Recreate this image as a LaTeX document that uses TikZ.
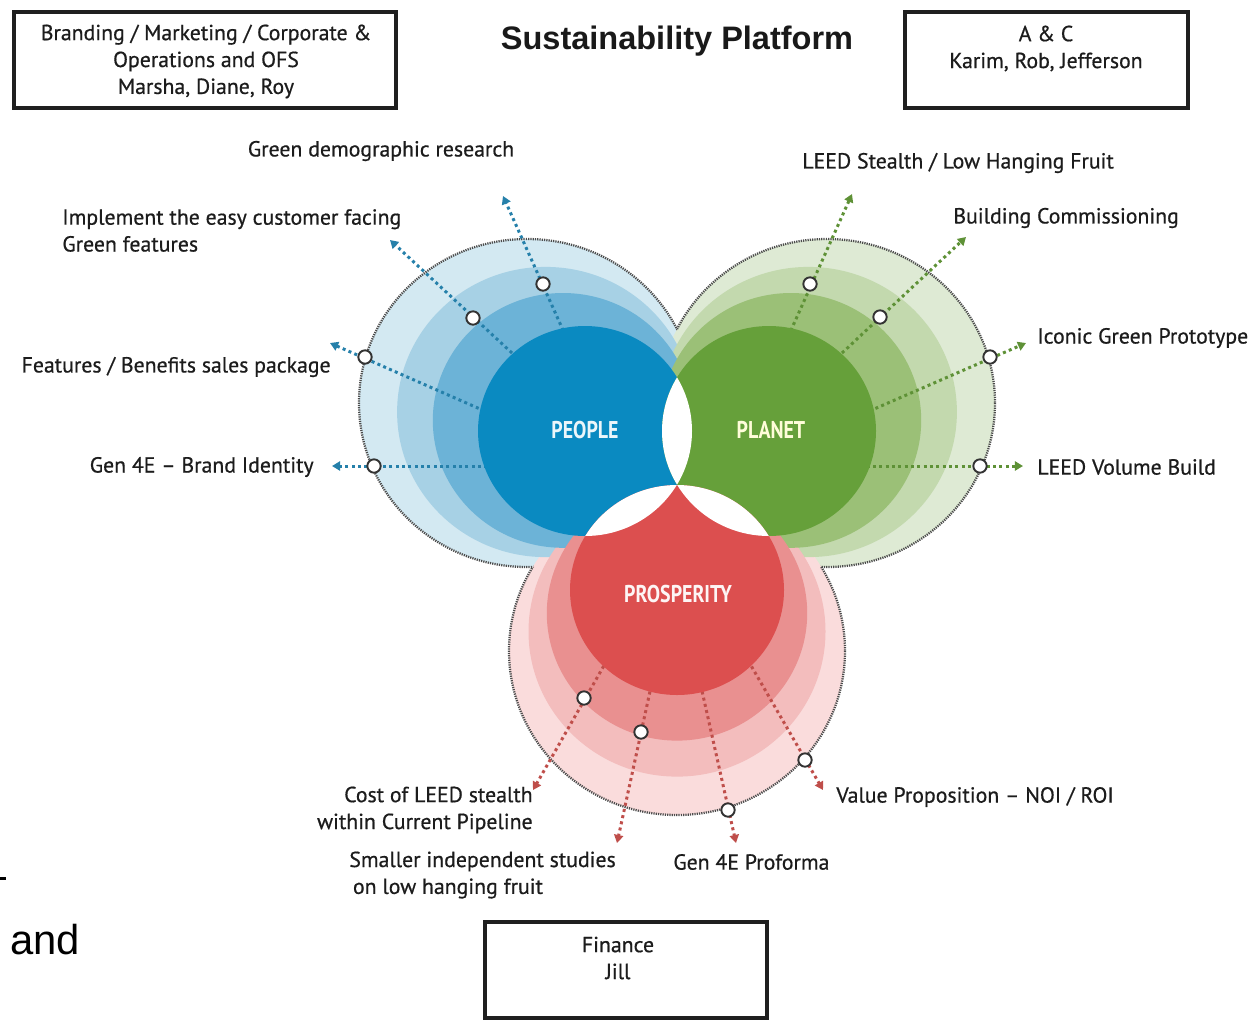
\documentclass[tikz,border=0pt]{standalone}
\usepackage{fontspec}
\setmainfont{PT Sans}
\newfontfamily\lblfam{PT Sans}[FakeBold=0.6]
\newfontfamily\titlefont{Liberation Sans}
\newfontfamily\condfont{PT Sans}[FakeStretch=0.82]
\usetikzlibrary{arrows.meta}
\definecolor{pA}{HTML}{D3E9F2}
\definecolor{pB}{HTML}{A7D1E5}
\definecolor{pC}{HTML}{6CB3D7}
\definecolor{pD}{HTML}{0A8AC1}
\definecolor{gA}{HTML}{DEEAD4}
\definecolor{gB}{HTML}{C3D9AE}
\definecolor{gC}{HTML}{9BC077}
\definecolor{gD}{HTML}{66A03A}
\definecolor{rA}{HTML}{FADCDC}
\definecolor{rB}{HTML}{F3BDBD}
\definecolor{rC}{HTML}{E99090}
\definecolor{rD}{HTML}{DC4F4F}
\definecolor{pL}{HTML}{2580AA}
\definecolor{gL}{HTML}{5E9136}
\definecolor{rL}{HTML}{BF4E4A}
\definecolor{txt}{HTML}{1C1C1C}
\newcommand\lblfont{\lblfam\fontsize{12.4}{15.3}\selectfont}
\begin{document}
\begin{tikzpicture}[x=0.02cm,y=-0.02cm,
  box/.style={draw=black!88,line width=2.3pt,inner sep=0pt,minimum height=1.92cm},
  boxtxt/.style={font=\lblfont,text=txt,align=center,inner sep=0pt},
  lbl/.style={font=\lblfont,text=txt,inner sep=0pt},
  core/.style={font=\condfont\bfseries\fontsize{13.8}{14}\selectfont,inner sep=0pt},
  conn/.style={line width=1.7pt,dash pattern=on 1.7pt off 1.9pt,-{Triangle[length=4.6pt,width=5.2pt]}},
  mk/.style={circle,draw=black!80,fill=white,line width=1.1pt,minimum size=7.6pt,inner sep=0pt},
  rim/.style={draw=black!70,line width=1.3pt,dash pattern=on 0.7pt off 0.6pt}
]
\useasboundingbox (0,0) rectangle (1253,1022);
\fill[white] (0,0) rectangle (1253,1022);

% outer discs
\fill[pA] (527,403) ellipse [x radius=168,y radius=164];
\fill[gA] (827,403) ellipse [x radius=168,y radius=164];
\fill[rA] (677,651) ellipse [x radius=168,y radius=164];
% third rings
\fill[pB] (545.6,412) ellipse [x radius=148.5,y radius=145.1];
\fill[gB] (808.4,412) ellipse [x radius=148.5,y radius=145.1];
\fill[rB] (677,631.5) ellipse [x radius=148.5,y radius=145.1];
% second rings
\fill[pC] (563,420.4) ellipse [x radius=130.2,y radius=127.4];
\fill[gC] (791,420.4) ellipse [x radius=130.2,y radius=127.4];
\fill[rC] (677,613.2) ellipse [x radius=130.2,y radius=127.4];

% dotted rims, only on the outer boundary of the union
\begin{scope}[even odd rule]
  \clip (-10,-10) rectangle (1263,1032) (827,403) ellipse [x radius=168,y radius=164];
  \clip (-10,-10) rectangle (1263,1032) (677,651) ellipse [x radius=168,y radius=164];
  \draw[rim] (527,403) ellipse [x radius=168,y radius=164];
\end{scope}
\begin{scope}[even odd rule]
  \clip (-10,-10) rectangle (1263,1032) (527,403) ellipse [x radius=168,y radius=164];
  \clip (-10,-10) rectangle (1263,1032) (677,651) ellipse [x radius=168,y radius=164];
  \draw[rim] (827,403) ellipse [x radius=168,y radius=164];
\end{scope}
\begin{scope}[even odd rule]
  \clip (-10,-10) rectangle (1263,1032) (527,403) ellipse [x radius=168,y radius=164];
  \clip (-10,-10) rectangle (1263,1032) (827,403) ellipse [x radius=168,y radius=164];
  \draw[rim] (677,651) ellipse [x radius=168,y radius=164];
\end{scope}

% connector end points
\coordinate (p1s) at (571,348); \coordinate (p1t) at (503,196);
\coordinate (p2s) at (512,353); \coordinate (p2t) at (390,240);
\coordinate (p3s) at (496,416); \coordinate (p3t) at (330,343);
\coordinate (p4s) at (500,466); \coordinate (p4t) at (332,466);
\coordinate (g1s) at (783,348); \coordinate (g1t) at (852,194);
\coordinate (g2s) at (842,353); \coordinate (g2t) at (966,237);
\coordinate (g3s) at (858,416); \coordinate (g3t) at (1026,343);
\coordinate (g4s) at (854,466); \coordinate (g4t) at (1023,466);
\coordinate (r1s) at (610,655); \coordinate (r1t) at (533,790);
\coordinate (r2s) at (654,673); \coordinate (r2t) at (617,843);
\coordinate (r3s) at (698,673); \coordinate (r3t) at (736,843);
\coordinate (r4s) at (742,650); \coordinate (r4t) at (823,790);

\draw[conn,pL] (p1s) -- (p1t);
\draw[conn,pL] (p2s) -- (p2t);
\draw[conn,pL] (p3s) -- (p3t);
\draw[conn,pL] (p4s) -- (p4t);
\draw[conn,gL] (g1s) -- (g1t);
\draw[conn,gL] (g2s) -- (g2t);
\draw[conn,gL] (g3s) -- (g3t);
\draw[conn,gL] (g4s) -- (g4t);
\draw[conn,rL] (r1s) -- (r1t);
\draw[conn,rL] (r2s) -- (r2t);
\draw[conn,rL] (r3s) -- (r3t);
\draw[conn,rL] (r4s) -- (r4t);

\node[mk] (p1m) at (543,284) {};
\node[mk] (p2m) at (473,318) {};
\node[mk] (p3m) at (365,357) {};
\node[mk] (p4m) at (374,466) {};
\node[mk] (g1m) at (810,284) {};
\node[mk] (g2m) at (880,317) {};
\node[mk] (g3m) at (990,357) {};
\node[mk] (g4m) at (980,466) {};
\node[mk] (r1m) at (584,698) {};
\node[mk] (r2m) at (641,732) {};
\node[mk] (r3m) at (728,810) {};
\node[mk] (r4m) at (805,760) {};

% cores
\fill[pD] (585,431) ellipse [x radius=107,y radius=105];
\fill[gD] (769,431) ellipse [x radius=107,y radius=105];
\fill[rD] (677,590) ellipse [x radius=107,y radius=105];
% white lenses
\begin{scope}
  \clip (585,431) ellipse [x radius=107,y radius=105];
  \fill[white] (769,431) ellipse [x radius=107,y radius=105];
  \fill[white] (677,590) ellipse [x radius=107,y radius=105];
\end{scope}
\begin{scope}
  \clip (769,431) ellipse [x radius=107,y radius=105];
  \fill[white] (677,590) ellipse [x radius=107,y radius=105];
\end{scope}

\node[core,text=white!92!pD] (people) at (585,430) {PEOPLE};
\node[core,text=white!85!yellow] (planet) at (771,430) {PLANET};
\node[core,text=white!94!rD] (prosp) at (678,594) {PROSPERITY};

% labels
\node[lbl] (l1) at (381,151) {Green demographic research};
\node[lbl,anchor=west,align=left] (l2) at (62,230.5) {Implement the easy customer facing\\Green features};
\node[lbl,anchor=east] (l3) at (331,367) {Features / Benefits sales package};
\node[lbl,anchor=east] (l4) at (314,467) {Gen 4E – Brand Identity};
\node[lbl,anchor=west] (l5) at (802,163) {LEED Stealth / Low Hanging Fruit};
\node[lbl,anchor=west] (l6) at (953,218) {Building Commissioning};
\node[lbl,anchor=west] (l7) at (1037,338) {Iconic Green Prototype};
\node[lbl,anchor=west] (l8) at (1037,467) {LEED Volume Build};
\node[lbl,anchor=east,align=right] (l9) at (533,810) {Cost of LEED stealth\\within Current Pipeline};
\node[lbl,anchor=west,align=left] (l10) at (349,875) {Smaller independent studies\\\,on low hanging fruit};
\node[lbl,anchor=west] (l11) at (673,862) {Gen 4E Proforma};
\node[lbl,anchor=west] (l12) at (836,797) {Value Proposition – NOI / ROI};

% boxes
\node[box,minimum width=7.64cm] (boxA) at (205,60) {};
\node[boxtxt] (boxAt) at (206,61.5) {Branding / Marketing / Corporate \&\\Operations and OFS\\Marsha, Diane, Roy};
\node[box,minimum width=5.66cm] (boxB) at (1046.5,60) {};
\node[boxtxt] (boxBt) at (1046,48.5) {A \& C\\Karim, Rob, Jefferson};
\node[box,minimum width=5.64cm] (boxC) at (626,970) {};
\node[boxtxt] (boxCt) at (618,958) {Finance\\Jill};

% title and stray text
\node[inner sep=0pt,font=\titlefont\bfseries\fontsize{18.5}{20}\selectfont,text=black!90] (title) at (677,41) {Sustainability Platform};
\node[inner sep=0pt,anchor=west,font=\titlefont\fontsize{23.8}{26}\selectfont,text=black] (andw) at (10,940) {and};
\fill[black] (0,877) rectangle (6,880);
\end{tikzpicture}
\end{document}
